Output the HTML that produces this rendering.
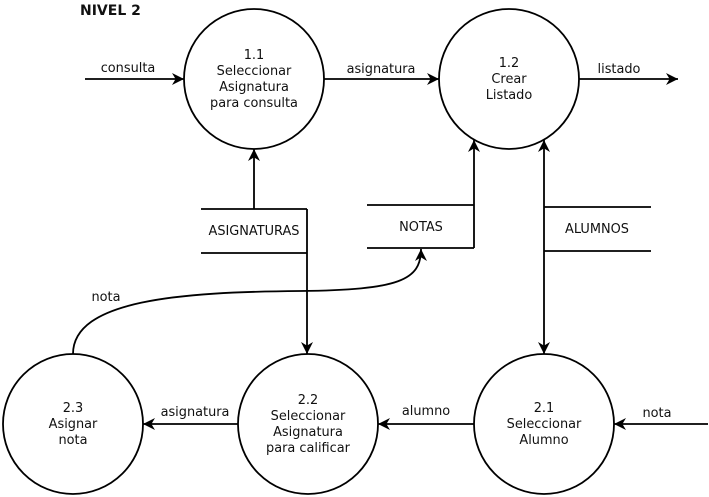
<!DOCTYPE html>
<html><head><style>body{margin:0;background:#fff}svg{display:block}text{font-family:"DejaVu Sans","Liberation Sans",sans-serif;font-size:12.9px;fill:#111}</style></head><body>
<svg width="709" height="497" viewBox="0 0 709 497" xmlns="http://www.w3.org/2000/svg">
<defs><marker id="a" viewBox="0 0 10 10" refX="10" refY="5" markerWidth="12" markerHeight="12" markerUnits="userSpaceOnUse" orient="auto-start-reverse"><path d="M0,0 L10,5 L0,10 L3,5 z" fill="#000"/></marker></defs>
<g stroke="#000" stroke-width="1.8" fill="none">
<circle cx="254" cy="79" r="70"/><circle cx="509" cy="79" r="70"/>
<circle cx="73" cy="424" r="70"/><circle cx="308" cy="424" r="70"/><circle cx="544" cy="424" r="70"/>
<line x1="85" y1="79" x2="184" y2="79" marker-end="url(#a)"/>
<line x1="324" y1="79" x2="439" y2="79" marker-end="url(#a)"/>
<line x1="579" y1="79" x2="678" y2="79" marker-end="url(#a)"/>
<line x1="201" y1="209" x2="307" y2="209"/><line x1="201" y1="253" x2="307" y2="253"/>
<line x1="254" y1="209" x2="254" y2="149" marker-end="url(#a)"/>
<line x1="307" y1="209" x2="307" y2="354" marker-end="url(#a)"/>
<line x1="367" y1="205" x2="474" y2="205"/><line x1="367" y1="248" x2="474" y2="248"/>
<line x1="474" y1="248" x2="474" y2="140" marker-end="url(#a)"/>
<line x1="544" y1="207" x2="651" y2="207"/><line x1="544" y1="251" x2="651" y2="251"/>
<line x1="544" y1="140" x2="544" y2="354" marker-start="url(#a)" marker-end="url(#a)"/>
<path d="M73,354 C73,300 180,292 300,291 C400,290 421,280 421,249" marker-end="url(#a)"/>
<line x1="238" y1="424" x2="143" y2="424" marker-end="url(#a)"/>
<line x1="474" y1="424" x2="378" y2="424" marker-end="url(#a)"/>
<line x1="708" y1="424" x2="614" y2="424" marker-end="url(#a)"/>
</g>
<text x="80" y="15" style="font-weight:bold;font-size:14px">NIVEL 2</text>
<g text-anchor="middle">
<text x="128" y="72">consulta</text><text x="381" y="73">asignatura</text><text x="619" y="73">listado</text>
<text x="254" y="59">1.1</text><text x="254" y="75">Seleccionar</text><text x="254" y="91">Asignatura</text><text x="254" y="107">para consulta</text>
<text x="509" y="67">1.2</text><text x="509" y="83">Crear</text><text x="509" y="99">Listado</text>
<text x="254" y="235">ASIGNATURAS</text><text x="421" y="231">NOTAS</text><text x="597" y="233">ALUMNOS</text>
<text x="106" y="301">nota</text>
<text x="73" y="412">2.3</text><text x="73" y="428">Asignar</text><text x="73" y="444">nota</text>
<text x="308" y="404">2.2</text><text x="308" y="420">Seleccionar</text><text x="308" y="436">Asignatura</text><text x="308" y="452">para calificar</text>
<text x="544" y="412">2.1</text><text x="544" y="428">Seleccionar</text><text x="544" y="444">Alumno</text>
<text x="195" y="416">asignatura</text><text x="426" y="415">alumno</text><text x="657" y="417">nota</text>
</g>
</svg></body></html>
